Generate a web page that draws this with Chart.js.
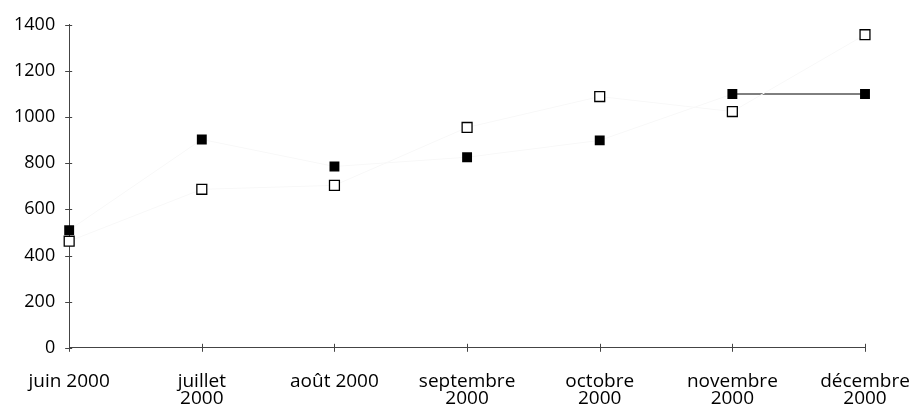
<!DOCTYPE html>
<html>
<head>
<meta charset="utf-8">
<script src="https://cdn.jsdelivr.net/npm/chart.js@4/dist/chart.umd.min.js"></script>
<style>
  html, body { margin: 0; padding: 0; background: #fff; }
  #wrap { width: 914px; height: 405px; }
</style>
</head>
<body>
<div id="wrap"><canvas id="chart"></canvas></div>
<script>
// mois (libellés sur deux lignes quand il le faut)
var mois = [
  'juin 2000',
  ['juillet', '2000'],
  'août 2000',
  ['septembre', '2000'],
  ['octobre', '2000'],
  ['novembre', '2000'],
  ['décembre', '2000']
];
var serieNoire = [510, 903, 786, 826, 899, 1100, 1100];
var serieBlanche = [462, 687, 704, 955, 1089, 1024, 1357];
var yMin = 0, yMax = 1400, yPas = 200;

var axisColor = '#444';
var lienPale = '#f8f8f8';
var police = "'Open Sans', Lato, sans-serif";

// petits traits qui traversent les axes
var traitsAxes = {
  id: 'traitsAxes',
  afterDraw: function (chart) {
    var ctx = chart.ctx;
    var x = chart.scales.x, y = chart.scales.y;
    ctx.save();
    ctx.strokeStyle = axisColor;
    ctx.lineWidth = 1;
    ctx.beginPath();
    for (var i = 0; i < y.ticks.length; i++) {
      var py = Math.round(y.getPixelForTick(i)) + 0.5;
      ctx.moveTo(x.left - 4, py);
      ctx.lineTo(x.left + 3, py);
    }
    for (var j = 0; j < x.ticks.length; j++) {
      var px = Math.round(x.getPixelForTick(j)) + 0.5;
      ctx.moveTo(px, y.bottom - 4);
      ctx.lineTo(px, y.bottom + 4);
    }
    ctx.stroke();
    ctx.restore();
  }
};

var chart = new Chart(document.getElementById('chart'), {
  type: 'line',
  data: {
    labels: mois,
    datasets: [
      {
        label: 'blanc',
        data: serieBlanche,
        borderColor: lienPale,
        borderWidth: 1,
        pointStyle: 'rect',
        pointRadius: 7,
        pointBackgroundColor: '#fff',
        pointBorderColor: '#000',
        pointBorderWidth: 1.3,
        fill: false
      },
      {
        label: 'noir',
        data: serieNoire,
        borderWidth: 1,
        segment: {
          borderColor: function (c) { return c.p0DataIndex === 5 ? '#000' : lienPale; }
        },
        pointStyle: 'rect',
        pointRadius: 7,
        pointBackgroundColor: '#000',
        pointBorderColor: '#000',
        pointBorderWidth: 0,
        fill: false
      }
    ]
  },
  options: {
    responsive: true,
    maintainAspectRatio: false,
    animation: false,
    layout: { padding: { top: 6, right: 0, left: 0, bottom: -27 } },
    plugins: { legend: { display: false }, tooltip: { enabled: false } },
    scales: {
      x: {
        offset: false,
        grid: { display: false, drawTicks: false },
        border: { display: true, color: axisColor, width: 1 },
        ticks: {
          color: '#000',
          maxRotation: 0,
          autoSkip: false,
          padding: 25,
          font: { family: police, size: 19, lineHeight: 0.9 }
        },
        afterFit: function (s) { s.paddingRight = 49; s.paddingLeft = 0; }
      },
      y: {
        min: yMin,
        max: yMax,
        grid: { display: false, drawTicks: false },
        border: { display: true, color: axisColor, width: 1 },
        ticks: {
          stepSize: yPas,
          color: '#000',
          padding: 14,
          font: { family: police, size: 18 },
          callback: function (v) { return String(v); }
        }
      }
    }
  },
  plugins: [traitsAxes]
});
</script>
</body>
</html>
